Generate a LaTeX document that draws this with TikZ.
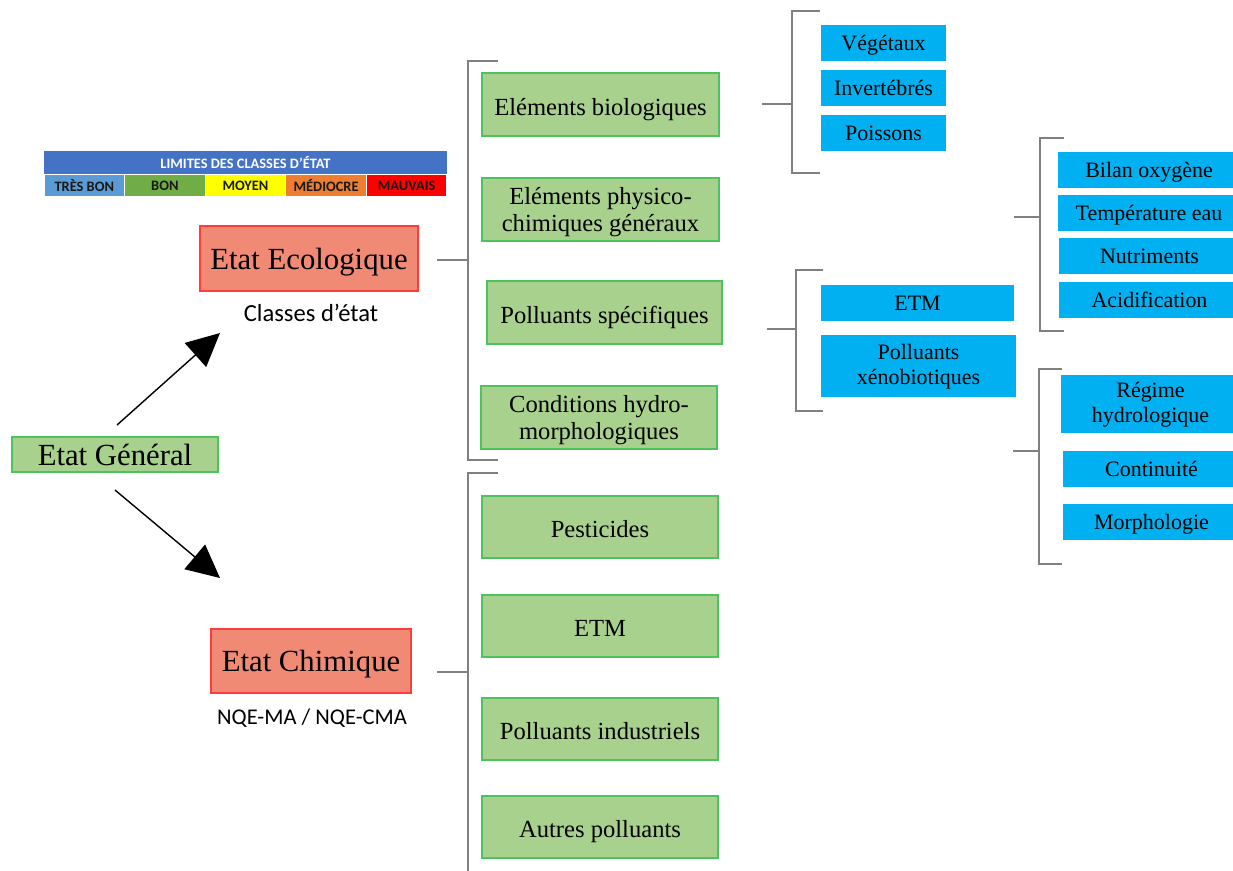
\documentclass[tikz,border=0pt]{standalone}
\usepackage{fontspec}
\setmainfont{Liberation Serif}
\newfontfamily\calib{Carlito}
\usetikzlibrary{arrows.meta}

\definecolor{boxgreen}{HTML}{A9D18E}
\definecolor{boxgreenline}{HTML}{4CC35E}
\definecolor{boxred}{HTML}{F08A75}
\definecolor{boxredline}{HTML}{FF3B3B}
\definecolor{boxblue}{HTML}{00B0F0}
\definecolor{brkgray}{HTML}{808080}
\definecolor{lgtitle}{HTML}{4472C4}
\definecolor{lgA}{HTML}{5B9BD5}
\definecolor{lgB}{HTML}{70AD47}
\definecolor{lgC}{HTML}{FFFF00}
\definecolor{lgD}{HTML}{ED7D31}
\definecolor{lgE}{HTML}{FF0000}

\tikzset{
  base/.style={inner sep=0pt, align=center},
  greenbox/.style={base, fill=boxgreen, draw=boxgreenline, line width=0.9pt,
    minimum width=4.72cm, minimum height=1.25cm, text height=12pt, text depth=0pt,
    font=\fontsize{14}{15.5}\selectfont},
  redbox/.style={base, fill=boxred, draw=boxredline, line width=0.9pt,
    text height=12.5pt, text depth=0pt, font=\fontsize{17.5}{20}\selectfont},
  bluebox/.style={base, fill=boxblue, minimum height=0.72cm, text height=9pt, text depth=0pt,
    font=\fontsize{12.5}{14.6}\selectfont},
  twogreen/.style={text height=25.2pt, text depth=0pt},
  twoblue/.style={text height=21.6pt, text depth=0pt},
  sublabel/.style={inner sep=0pt, font=\calib\fontsize{14}{16}\selectfont},
  lgcell/.style={inner sep=0pt, minimum width=1.59cm, minimum height=0.42cm,
    text=black!90, font=\calib\bfseries\fontsize{8.2}{9}\selectfont},
  brk/.style={draw=brkgray, line width=0.85pt},
  bigarr/.style={-{Triangle[length=0.66cm,width=0.64cm]}, line width=0.8pt}
}

\begin{document}
\begin{tikzpicture}[x=0.02cm, y=-0.02cm]
    \useasboundingbox (0,0) rectangle (1233,870);

    % legend
    \node[inner sep=0pt, fill=lgtitle, minimum width=8.06cm, minimum height=0.46cm,
          text=white, font=\calib\bfseries\fontsize{8.2}{9}\selectfont] (lgt) at (245.5,162.5) {LIMITES DES CLASSES D’ÉTAT};
    \foreach \i/\t/\c in {0/TRÈS BON/lgA, 1/BON/lgB, 2/MOYEN/lgC, 3/MÉDIOCRE/lgD, 4/MAUVAIS/lgE}
    \node[lgcell, fill=\c] (lg\i) at (84.3+80.6*\i,185.5) {\t};

    % main states
    \node[greenbox, minimum width=4.12cm, minimum height=0.7cm, text height=13pt,
          font=\fontsize{17.5}{20}\selectfont] (gen) at (115,454.5) {Etat Général};
    \node[redbox, minimum width=4.36cm, minimum height=1.3cm, text height=13pt] (eco) at (309,258.5) {Etat Ecologique};
    \node[sublabel] (ecolab) at (311,313) {Classes d’état};
    \node[redbox, minimum width=4.0cm, minimum height=1.28cm] (chim) at (311,661) {Etat Chimique};
    \node[sublabel, font=\calib\fontsize{12.8}{15}\selectfont] (chimlab) at (312,718) {NQE-MA / NQE-CMA};

    \coordinate (a1s) at (117,425);
    \coordinate (a1e) at (220,333);
    \coordinate (a2s) at (115,490);
    \coordinate (a2e) at (220,578);
    \draw[bigarr] (a1s) -- (a1e);
    \draw[bigarr] (a2s) -- (a2e);

    % ecological elements
    \node[greenbox, minimum width=4.74cm] (bio) at (600.5,104.5) {Eléments biologiques};
    \node[greenbox, twogreen, minimum width=4.74cm] (phys) at (600.5,209.5) {Eléments physico-\\chimiques généraux};
    \node[greenbox, minimum width=4.70cm] (pspe) at (604.5,312.5) {Polluants spécifiques};
    \node[greenbox, twogreen, minimum width=4.72cm] (cond) at (599,417.5) {Conditions hydro-\\morphologiques};

    % chemical elements
    \node[greenbox] (pest) at (600,527) {Pesticides};
    \node[greenbox] (etm) at (600,626) {ETM};
    \node[greenbox] (pind) at (600,729) {Polluants industriels};
    \node[greenbox] (autr) at (600,827) {Autres polluants};

    % sub-elements
    \node[bluebox, minimum width=2.5cm] (veg) at (883.5,43) {Végétaux};
    \node[bluebox, minimum width=2.5cm] (inv) at (883.5,88) {Invertébrés};
    \node[bluebox, minimum width=2.5cm] (poi) at (883.5,132.5) {Poissons};

    \node[bluebox, minimum width=3.64cm] (bil) at (1149,170) {Bilan oxygène};
    \node[bluebox, minimum width=3.64cm] (tem) at (1149,213) {Température eau};
    \node[bluebox, minimum width=3.62cm] (nut) at (1149.5,256) {Nutriments};
    \node[bluebox, minimum width=3.62cm] (aci) at (1149.5,300) {Acidification};

    \node[bluebox, minimum width=3.86cm] (etm2) at (917.5,303) {ETM};
    \node[bluebox, twoblue, minimum width=3.9cm, minimum height=1.24cm] (xen) at (918.5,366) {Polluants\\xénobiotiques};

    \node[bluebox, twoblue, minimum width=3.58cm, minimum height=1.16cm] (reg) at (1150.5,404) {Régime\\hydrologique};
    \node[bluebox, minimum width=3.54cm] (con) at (1151.5,469) {Continuité};
    \node[bluebox, minimum width=3.54cm] (mor) at (1151.5,522) {Morphologie};

    % brackets
    \foreach \sx/\sy/\bx/\bt/\bb/\tx in {437/260/468/61/460/498, 437/672/468/473/885/498,
      762/104/792/11/173/820, 1014/217/1040/138/331/1064, 767/329/796/270/411/823, 1013/451/1039/369/564/1062}
    \draw[brk] (\sx,\sy) -- (\bx,\sy) (\tx,\bt) -- (\bx,\bt) -- (\bx,\bb) -- (\tx,\bb);
\end{tikzpicture}
\end{document}
